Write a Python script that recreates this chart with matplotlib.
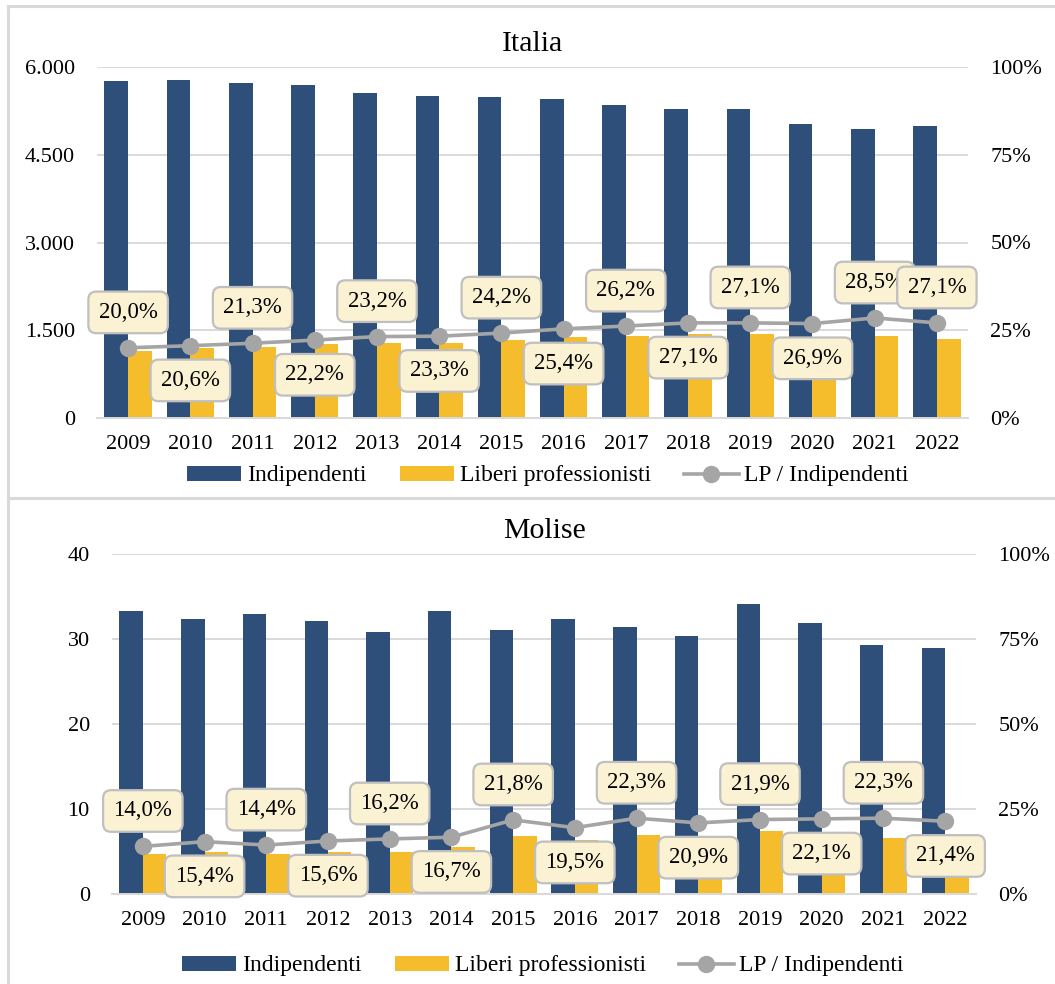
import matplotlib
matplotlib.use("Agg")
from matplotlib import pyplot
from matplotlib.lines import Line2D
from matplotlib.ticker import FuncFormatter
import numpy

# Data
years = ["2009", "2010", "2011", "2012", "2013", "2014", "2015",
         "2016", "2017", "2018", "2019", "2020", "2021", "2022"]

italiaIndipendenti = [5761, 5778, 5726, 5692, 5556, 5504, 5487,
                      5453, 5350, 5282, 5282, 5026, 4940, 4991]
italiaLiberi = [1152, 1190, 1220, 1264, 1289, 1282, 1328,
                1385, 1402, 1431, 1431, 1352, 1408, 1353]
italiaRatio = [20.0, 20.6, 21.3, 22.2, 23.2, 23.3, 24.2,
               25.4, 26.2, 27.1, 27.1, 26.9, 28.5, 27.1]
italiaLabelAbove = [1, 0, 1, 0, 1, 0, 1, 0, 1, 0, 1, 0, 1, 1]

moliseIndipendenti = [33.3, 32.35, 32.9, 32.1, 30.8, 33.3, 31.06,
                      32.35, 31.4, 30.35, 34.1, 31.9, 29.3, 28.9]
moliseLiberi = [4.66, 4.98, 4.74, 5.0, 4.99, 5.56, 6.77,
                6.31, 7.0, 6.34, 7.47, 7.05, 6.53, 6.18]
moliseRatio = [14.0, 15.4, 14.4, 15.6, 16.2, 16.7, 21.8,
               19.5, 22.3, 20.9, 21.9, 22.1, 22.3, 21.4]
moliseLabelAbove = [1, 0, 1, 0, 1, 0, 1, 0, 1, 0, 1, 0, 1, 0]

# Style
blue = "#2D4F79"
yellow = "#F5BC2C"
gray = "#A5A5A5"
gridGray = "#D9D9D9"
matplotlib.rcParams["font.family"] = ["Liberation Serif", "DejaVu Serif"]

W, H = 1055, 984
figure = pyplot.figure(figsize=(W / 100, H / 100), dpi=100)


def fx(px):
    return px / W


def fy(py):
    return 1 - py / H


# Panel frames
for (x0, y0, x1, y1) in [(8, 6, 8, 984), (8, 6, 1055, 6), (8, 497.5, 1055, 497.5)]:
    figure.add_artist(Line2D([fx(x0), fx(x1)], [fy(y0), fy(y1)], color=gridGray, lw=2.2,
                             transform=figure.transFigure))


def thousands(v, pos):
    return f"{int(v):,}".replace(",", ".")


def drawPanel(rect, title, indip, liberi, ratio, above, ymax, step, legendY, legendX):
    axis = figure.add_axes(rect)
    x = numpy.arange(len(years))
    width = 0.38

    b1 = axis.bar(x - width / 2, indip, width, color=blue, label="Indipendenti", zorder=2)
    b2 = axis.bar(x + width / 2, liberi, width, color=yellow, label="Liberi professionisti", zorder=2)

    axis.set_xlim(-0.5, len(years) - 0.5)
    axis.set_ylim(0, ymax)
    axis.set_yticks(numpy.arange(0, ymax + step / 2, step))
    axis.yaxis.set_major_formatter(FuncFormatter(thousands))
    axis.set_xticks(x, years)
    axis.grid(True, axis="y", color=gridGray, lw=1.4, zorder=0)
    axis.set_axisbelow(True)
    for s in ["top", "left", "right"]:
        axis.spines[s].set_visible(False)
    axis.spines["bottom"].set_color(gridGray)
    axis.spines["bottom"].set_linewidth(1.4)
    axis.tick_params(axis="x", length=0, pad=12, labelsize=16)
    axis.tick_params(axis="y", length=0, pad=16, labelsize=16)

    axis2 = axis.twinx()
    axis2.set_ylim(0, 1)
    axis2.set_yticks([0, 0.25, 0.5, 0.75, 1.0])
    axis2.yaxis.set_major_formatter(FuncFormatter(lambda v, p: f"{v * 100:.0f}%"))
    axis2.tick_params(axis="y", length=0, pad=16, labelsize=16)
    for s in axis2.spines.values():
        s.set_visible(False)

    values = numpy.array(ratio) / 100
    line, = axis2.plot(x, values, color=gray, lw=2.6, marker="o", markersize=11.5,
                       label="LP / Indipendenti", zorder=3)

    for i, v in enumerate(values):
        offset = 25.5 if above[i] else -25
        axis2.annotate(f"{ratio[i]:.1f}%".replace(".", ","), (x[i], v),
                       xytext=(0, offset), textcoords="offset points",
                       ha="center", va="center", fontsize=16.5, zorder=4,
                       bbox=dict(boxstyle="round,pad=0.45,rounding_size=0.35",
                                 fc="#FBF1D3", ec="#BFBFBF", lw=1.6))

    figure.text(rect[0] + rect[2] / 2, rect[1] + rect[3] + 0.023, title,
                ha="center", va="center", fontsize=21.5)

    figure.legend(handles=[b1, b2, line], loc="center", ncol=3, frameon=False,
                  bbox_to_anchor=(legendX, legendY), fontsize=17,
                  handlelength=2.3, handleheight=0.6, handletextpad=0.25,
                  columnspacing=1.4)


drawPanel([fx(97), fy(418), fx(968) - fx(97), fy(67) - fy(418)], "Italia",
          italiaIndipendenti, italiaLiberi, italiaRatio, italiaLabelAbove,
          6000, 1500, fy(476), fx(548))

drawPanel([fx(112), fy(894), fx(976) - fx(112), fy(554) - fy(894)], "Molise",
          moliseIndipendenti, moliseLiberi, moliseRatio, moliseLabelAbove,
          40, 10, fy(966), fx(543))

pyplot.savefig("out.png", dpi=100)
